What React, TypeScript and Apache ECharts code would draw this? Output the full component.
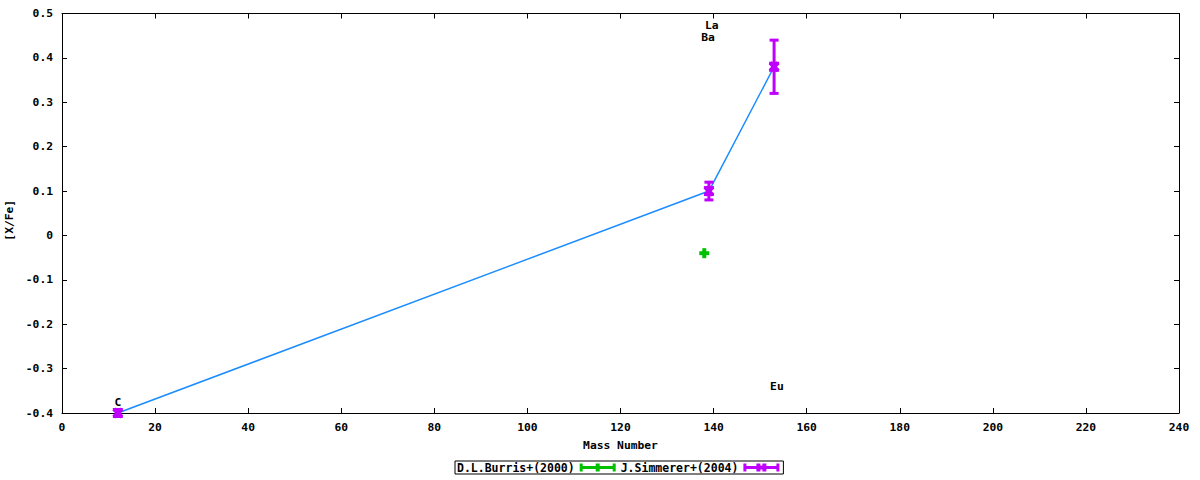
import React, { useEffect, useRef } from "react";
import * as echarts from "echarts";

// ---- data ----
const burrisMass = [138];
const burrisValue = [-0.04];
const burrisError = [0];

const simmererMass = [12, 139, 153];
const simmererValue = [-0.4, 0.1, 0.38];
const simmererError = [0, 0.02, 0.06];

const labelNames = ["C", "Ba", "La", "Eu"];
const labelMass = [12, 138.8, 139.6, 153.6];
const labelValue = [-0.377, 0.445, 0.474, -0.341];

const xMin = 0;
const xMax = 240;
const xStep = 20;
const yMin = -0.4;
const yMax = 0.5;
const yStep = 0.1;

const GREEN = "#00c000";
const MAGENTA = "#c000ff";
const BLUE = "#1a8cff";
const FONT = "DejaVu Sans Mono";
const FS = 11.3;

const greenIcon =
  "path://M0,2.5h36v3h-36z M0,0h3v8h-3z M33,0h3v8h-3z M16,0h4v8h-4z";
const magentaIcon =
  "path://M0,2.5h36v3h-36z M0,0h3v8h-3z M33,0h3v8h-3z M13,0h4v8h-4z M19,0h4v8h-4z M13,2h10v4h-10z";

function makeRender(kind: "plus" | "cross", color: string) {
  return (params: any, api: any) => {
    const x = api.value(0);
    const y = api.value(1);
    const e = api.value(2);
    const c = api.coord([x, y]);
    const children: any[] = [];
    if (e > 0) {
      const t = api.coord([x, y + e]);
      const b = api.coord([x, y - e]);
      children.push({
        type: "rect",
        shape: { x: c[0] - 1.5, y: t[1], width: 3, height: b[1] - t[1] },
        style: { fill: color },
      });
      children.push({
        type: "rect",
        shape: { x: c[0] - 4.5, y: t[1] - 1.5, width: 9, height: 3 },
        style: { fill: color },
      });
      children.push({
        type: "rect",
        shape: { x: c[0] - 4.5, y: b[1] - 1.5, width: 9, height: 3 },
        style: { fill: color },
      });
    }
    if (kind === "plus") {
      children.push({
        type: "rect",
        shape: { x: c[0] - 5, y: c[1] - 2, width: 10, height: 4 },
        style: { fill: color },
      });
      children.push({
        type: "rect",
        shape: { x: c[0] - 2, y: c[1] - 5, width: 4, height: 10 },
        style: { fill: color },
      });
    } else {
      children.push({
        type: "line",
        shape: { x1: c[0] - 4, y1: c[1] - 4, x2: c[0] + 4, y2: c[1] + 4 },
        style: { stroke: color, lineWidth: 4 },
      });
      children.push({
        type: "line",
        shape: { x1: c[0] - 4, y1: c[1] + 4, x2: c[0] + 4, y2: c[1] - 4 },
        style: { stroke: color, lineWidth: 4 },
      });
      children.push({
        type: "rect",
        shape: { x: c[0] - 5, y: c[1] - 5, width: 10, height: 2.5 },
        style: { fill: color },
      });
      children.push({
        type: "rect",
        shape: { x: c[0] - 5, y: c[1] + 2.5, width: 10, height: 2.5 },
        style: { fill: color },
      });
    }
    return { type: "group", children };
  };
}

export default function App() {
  const ref = useRef<HTMLDivElement>(null);
  useEffect(() => {
    if (!ref.current) return;
    const chart = echarts.init(ref.current, undefined, { renderer: "svg" });
    const textBase = { fontFamily: FONT, fontWeight: "bold" as const, fontSize: FS, color: "#000" };
    const axisCommon = {
      axisLine: { show: true, onZero: false, lineStyle: { color: "#000", width: 1 } },
      axisTick: { show: true, inside: true, length: 5, lineStyle: { color: "#000", width: 1 } },
      splitLine: { show: false },
    };
    chart.setOption({
      animation: false,
      backgroundColor: "#fff",
      textStyle: { fontFamily: FONT },
      grid: {
        left: 62,
        right: 21,
        top: 13.5,
        bottom: 67,
        containLabel: false,
        outerBoundsMode: "none",
      },
      legend: {
        data: [
          { name: "D.L.Burris+(2000)", icon: greenIcon },
          { name: "J.Simmerer+(2004)", icon: magentaIcon },
        ],
        align: "right",
        left: 455,
        top: 461,
        itemWidth: 36,
        itemHeight: 8,
        itemGap: 5,
        padding: [0, 4, 0, 2],
        borderColor: "#000",
        borderWidth: 1,
        selectedMode: false,
        textStyle: { ...textBase, fontSize: 11.5, lineHeight: 13 },
      },
      xAxis: [
        {
          type: "value",
          position: "bottom",
          min: xMin,
          max: xMax,
          interval: xStep,
          name: "Mass Number",
          nameLocation: "middle",
          nameGap: 27,
          nameTextStyle: textBase,
          axisLabel: { ...textBase, margin: 9 },
          ...axisCommon,
        },
        {
          type: "value",
          position: "top",
          min: xMin,
          max: xMax,
          interval: xStep,
          axisLabel: { show: false },
          ...axisCommon,
        },
      ],
      yAxis: [
        {
          type: "value",
          position: "left",
          min: yMin,
          max: yMax,
          interval: yStep,
          name: "[X/Fe]",
          nameLocation: "middle",
          nameGap: 43,
          nameTextStyle: { ...textBase, padding: [0, 14, 0, 0] },
          axisLabel: { ...textBase, margin: 9 },
          ...axisCommon,
        },
        {
          type: "value",
          position: "right",
          min: yMin,
          max: yMax,
          interval: yStep,
          axisLabel: { show: false },
          ...axisCommon,
        },
      ],
      series: [
        {
          name: "trend",
          type: "line",
          data: simmererMass.map((m, i) => [m, simmererValue[i]]),
          symbol: "none",
          lineStyle: { color: BLUE, width: 1.5 },
          itemStyle: { color: BLUE },
          z: 2,
        },
        {
          name: "D.L.Burris+(2000)",
          type: "custom",
          renderItem: makeRender("plus", GREEN),
          data: burrisMass.map((m, i) => [m, burrisValue[i], burrisError[i]]),
          itemStyle: { color: GREEN },
          encode: { x: 0, y: 1 },
          z: 3,
        },
        {
          name: "J.Simmerer+(2004)",
          type: "custom",
          renderItem: makeRender("cross", MAGENTA),
          data: simmererMass.map((m, i) => [m, simmererValue[i], simmererError[i]]),
          itemStyle: { color: MAGENTA },
          encode: { x: 0, y: 1 },
          z: 4,
        },
        {
          name: "labels",
          type: "scatter",
          data: labelNames.map((n, i) => ({ name: n, value: [labelMass[i], labelValue[i]] })),
          symbol: "circle",
          symbolSize: 0.01,
          itemStyle: { color: "#000", opacity: 1 },
          label: {
            show: true,
            position: [0, 0],
            align: "center",
            verticalAlign: "middle",
            formatter: (p: any) => p.name,
            ...textBase,
            opacity: 1,
            textBorderWidth: 0,
          },
          emphasis: { disabled: true },
          silent: true,
          z: 5,
        },
      ],
    });
    return () => chart.dispose();
  }, []);
  return (
    <div
      ref={ref}
      style={{ position: "fixed", left: 0, top: 0, width: 1200, height: 480, background: "#fff" }}
    />
  );
}
